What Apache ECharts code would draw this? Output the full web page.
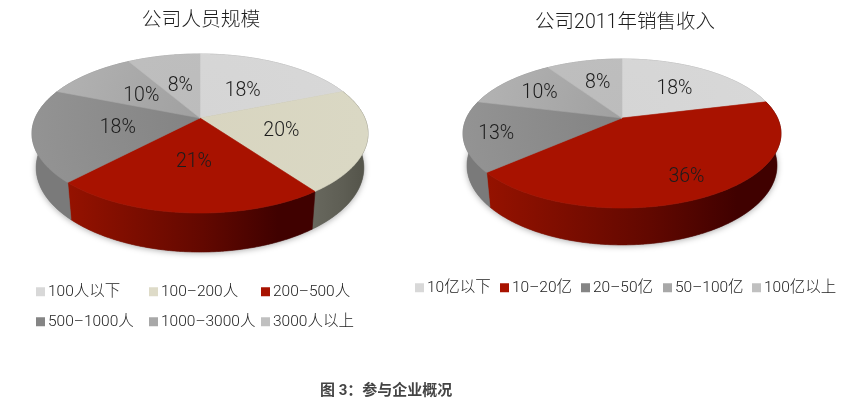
<!DOCTYPE html>
<html>
<head>
<meta charset="utf-8">
<style>html,body{margin:0;padding:0;background:#fff}#c{width:863px;height:410px}</style>
<script src="https://cdn.jsdelivr.net/npm/echarts@6/dist/echarts.min.js"></script>
</head>
<body>
<div id="c"></div>
<script>
const titleLeft = '公司人员规模';
const titleRight = '公司2011年销售收入';
const caption = '图 3：参与企业概况';
const categoriesLeft = ['100人以下', '100–200人', '200–500人', '500–1000人', '1000–3000人', '3000人以上'];
const valuesLeft = [18, 20, 21, 18, 10, 8];
const categoriesRight = ['10亿以下', '10–20亿', '20–50亿', '50–100亿', '100亿以上'];
const valuesRight = [18, 36, 13, 10, 8];

const FONT = 'Roboto, "Liberation Sans", "Noto Sans CJK SC", sans-serif';
const RED = { top: ['#a81200', '#a81200'], wall: ['#951200', '#620800', '#400100'], legend: '#a81200' };
const LIGHT = { top: ['#d5d5d5', '#d8d8d8'], wall: ['#999', '#999', '#999'], legend: '#d8d8d8' };
const BEIGE = { top: ['#d8d5c0', '#dad8c4'], wall: ['#68685e', '#5e5e54', '#56564c'], legend: '#dedbc8' };
const GRAY = { top: ['#838383', '#939393'], wall: ['#7a7a7a', '#7a7a7a', '#7a7a7a'], legend: '#858585' };
const MID = { top: ['#a0a0a0', '#b4b4b4'], wall: ['#888', '#888', '#888'], legend: '#a8a8a8' };
const PALE = { top: ['#bcbcbc', '#c0c0c0'], wall: ['#999', '#999', '#999'], legend: '#c0c0c0' };

const pies = [
  { names: categoriesLeft, values: valuesLeft, styles: [LIGHT, BEIGE, RED, GRAY, MID, PALE],
    cx: 200, cy: 118, sx: 164.8, a: 76.5, k: 0.195, depth: 33.3, labelR: [0.5, 0.5, 0.5, 0.5, 0.5, 0.5] },
  { names: categoriesRight, values: valuesRight, styles: [LIGHT, RED, GRAY, MID, PALE],
    cx: 622, cy: 118, sx: 155.5, a: 71.3, k: 0.208, depth: 31, labelR: [0.6, 0.77, 0.8, 0.7, 0.6] }
];
const legendCells = [
  { name: categoriesLeft[0], left: 36, top: 284 }, { name: categoriesLeft[1], left: 149, top: 284 },
  { name: categoriesLeft[2], left: 261, top: 284 }, { name: categoriesLeft[3], left: 36, top: 314 },
  { name: categoriesLeft[4], left: 149, top: 314 }, { name: categoriesLeft[5], left: 261, top: 314 },
  { name: categoriesRight[0], left: 415, top: 280 }, { name: categoriesRight[1], left: 500, top: 280 },
  { name: categoriesRight[2], left: 581, top: 280 }, { name: categoriesRight[3], left: 663, top: 280 },
  { name: categoriesRight[4], left: 752, top: 280 }
];

function project(p, r, deg, lower) {
  const t = deg * Math.PI / 180;
  const u = r * Math.sin(t), v = -r * Math.cos(t);
  const den = 1 - p.k * v;
  const x = p.sx * u / den, y = p.a * v / den;
  if (!lower) return [p.cx + x, p.cy + y];
  return [p.cx + x * 0.975, p.cy + y * 0.975 + p.depth / den];
}
function arc(p, from, to, lower) {
  const pts = [];
  const n = Math.max(2, Math.ceil((to - from) * 2));
  for (let i = 0; i <= n; i++) pts.push(project(p, 1, from + (to - from) * i / n, lower));
  return pts;
}

const series = [];
pies.forEach(function (p, pieIndex) {
  const total = p.values.reduce(function (s, v) { return s + v; }, 0);
  let cum = 0;
  p.values.forEach(function (val, i) {
    const start = cum / total * 360;
    cum += val;
    const end = cum / total * 360;
    const st = p.styles[i];
    series.push({
      type: 'custom',
      name: p.names[i],
      coordinateSystem: 'none',
      silent: true,
      animation: false,
      itemStyle: { color: st.legend },
      data: [[val]],
      renderItem: function (params, api) {
        const v = api.value(0);
        const rim = arc(p, start, end, false);
        const low = arc(p, start, end, true);
        const xs = rim.concat(low).map(function (q) { return q[0]; });
        const x0 = Math.min.apply(null, xs), x1 = Math.max.apply(null, xs);
        const wallFill = { type: 'linear', global: true, x: x0, y: 0, x2: x1, y2: 0,
          colorStops: [{ offset: 0, color: st.wall[0] }, { offset: 0.55, color: st.wall[1] }, { offset: 0.85, color: st.wall[2] }, { offset: 1, color: st.wall[2] }] };
        const topFill = { type: 'radial', global: true, x: p.cx, y: p.cy, r: p.sx,
          colorStops: [{ offset: 0, color: st.top[0] }, { offset: 1, color: st.top[1] }] };
        const mid = (start + end) / 2;
        const lab = project(p, p.labelR[i], mid, false);
        const children = [];
        if (i === 0) {
          children.push({ type: 'polygon', z2: 1, shape: { points: arc(p, 0, 360, true) },
            style: { fill: '#777', shadowBlur: 6, shadowOffsetY: 1, shadowColor: 'rgba(0,0,0,0.35)' } });
        }
        children.push({ type: 'polygon', z2: 2, shape: { points: rim.concat(low.slice().reverse()) },
          style: { fill: wallFill, stroke: wallFill, lineWidth: 0.6 } });
        children.push({ type: 'polygon', z2: 3, shape: { points: [[p.cx, p.cy]].concat(rim) },
          style: { fill: topFill, stroke: topFill, lineWidth: 0.6 } });
        children.push({ type: 'text', z2: 4, style: { x: lab[0], y: lab[1] + 2, text: v + '%', fill: '#1c1c1c',
          font: '300 19.5px ' + FONT, align: 'center', verticalAlign: 'middle' } });
        return { type: 'group', children: children };
      }
    });
  });
});

const legends = legendCells.map(function (c) {
  return { data: [c.name], left: c.left, top: c.top, selectedMode: false, icon: 'rect',
    itemWidth: 9, itemHeight: 9, padding: 0,
    textStyle: { fontFamily: FONT, fontWeight: 300, fontSize: 15.5, color: '#1c1c1c', padding: [0, 0, 0, -2] } };
});

const chart = echarts.init(document.getElementById('c'), null, { renderer: 'canvas' });
chart.setOption({
  animation: false,
  backgroundColor: '#fff',
  title: [
    { text: titleLeft, left: 201, top: 11, textAlign: 'center', padding: 0, textStyle: { fontFamily: FONT, fontWeight: 300, fontSize: 19.8, color: '#1c1c1c' } },
    { text: titleRight, left: 625, top: 13, textAlign: 'center', padding: 0, textStyle: { fontFamily: FONT, fontWeight: 300, fontSize: 19.5, color: '#1c1c1c' } },
    { text: caption, left: 320, top: 384, padding: 0, textStyle: { fontFamily: FONT, fontWeight: 'bold', fontSize: 15, color: '#444' } }
  ],
  legend: legends,
  series: series
});
</script>
</body>
</html>
